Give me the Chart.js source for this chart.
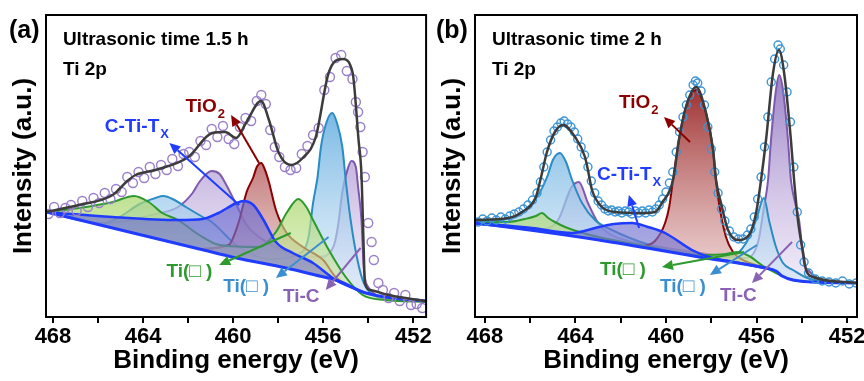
<!DOCTYPE html>
<html lang="en">
<head>
<meta charset="UTF-8">
<title>Ti 2p XPS</title>
<script src="https://cdn.jsdelivr.net/npm/chart.js@4.4.1/dist/chart.umd.min.js"></script>
<style>
  body { margin: 0; background: #fff; }
  canvas { position: absolute; top: 0; }
</style>
</head>
<body>
<canvas id="chartA" width="432" height="381" style="left:0"></canvas>
<canvas id="chartB" width="432" height="381" style="left:432px"></canvas>
<script>
  // x = binding energy (eV), y = intensity (a.u.)
  const xTicks = [452, 454, 456, 458, 460, 462, 464, 466, 468];

  // ---- (a) ultrasonic time 1.5 h
  const aFit = [[468.3,105],[466.85,112],[465.35,122],[464.7,136],[464.33,142],[463.45,147],[461.99,160],[460.93,184],[460.35,185],[459.87,179],[459.43,194],[458.76,216],[458.41,197],[457.97,164],[457.44,152],[456.91,159],[456.33,180],[455.76,244],[455.14,258],[454.7,245],[454.43,177],[454.3,142],[454.2,67],[454.15,34],[453.9,27],[453.1,22],[451.45,16]];
  const aPoints = [[468.2,103],[467.95,110],[467.7,104],[467.45,109],[467.2,112],[466.95,106],[466.7,116],[466.45,110],[466.2,119],[465.95,114],[465.7,124],[465.45,118],[465.2,128],[464.95,125],[464.7,140],[464.45,134],[464.2,145],[463.95,139],[463.7,150],[463.45,143],[463.2,152],[462.95,147],[462.7,158],[462.45,151],[462.2,163],[461.95,165],[461.7,160],[461.45,176],[461.2,172],[460.95,188],[460.7,180],[460.45,191],[460.2,178],[459.95,173],[459.7,190],[459.45,199],[459.2,196],[458.95,216],[458.75,222],[458.55,213],[458.35,187],[458.15,170],[457.95,160],[457.7,150],[457.45,147],[457.2,149],[456.95,163],[456.7,171],[456.45,182],[456.2,189],[455.95,227],[455.7,240],[455.45,259],[455.2,262],[454.95,246],[454.7,238],[454.55,215],[454.45,205],[454.35,190],[454.25,165],[454.15,140],[454.0,94],[453.85,75],[453.75,57],[453.55,34],[453.35,27],[453.1,19],[452.85,24],[452.6,16],[452.35,22],[452.1,12],[451.85,13],[451.6,9]];
  const aBg = [[468.3,105],[465.9,92],[463.7,80],[461.5,68],[459.85,59],[457.65,49],[456.35,42],[455.45,37],[454.9,32],[454.25,25],[453.25,20],[451.45,16]];
  const aCTiTx = [[468.3,105],[465.35,100],[462.45,97],[461.35,98],[460.65,104],[459.85,114],[459.55,116],[459.1,112],[458.65,97],[458.1,75],[457.35,64],[456.45,54],[455.45,37],[454.25,25]];
  const aTi2 = [[468.3,105],[466.85,109],[465.35,115],[464.4,121],[463.75,115],[463.15,104],[462.45,97],[461.5,82],[460.6,72],[458.85,70],[458.1,85],[457.6,105],[457.1,118],[456.75,110],[456.45,97],[455.75,67],[455.0,40],[454.25,22],[453.25,17],[451.45,15]];
  const aTiO2 = [[461.5,68],[460.2,72],[459.75,95],[459.4,125],[459.1,140],[458.95,150],[458.75,154],[458.6,148],[458.4,134],[458.1,107],[457.65,85],[456.9,70],[456.0,57],[455.45,40],[454.9,32],[454.25,25]];
  const aTi3 = [[468.3,105],[467.0,99],[465.9,93],[465.05,100],[464.15,113],[463.45,119],[463.1,121],[462.6,117],[462.1,110],[461.35,100],[460.95,95],[459.75,70],[458.4,58],[457.1,63],[456.65,80],[456.45,114],[456.25,140],[456.1,170],[455.85,195],[455.6,204],[455.4,195],[455.15,170],[455.0,137],[454.8,100],[454.55,65],[454.25,37],[453.9,24],[453.1,18],[451.45,16]];
  const aTiC = [[468.3,105],[465.9,94],[463.25,104],[462.45,110],[461.8,124],[461.5,135],[460.95,146],[460.6,143],[460.35,134],[459.85,112],[459.4,92],[458.85,80],[457.95,68],[457.1,62],[456.2,60],[455.55,70],[455.35,90],[455.15,125],[454.95,145],[454.75,156],[454.55,150],[454.45,130],[454.3,97],[454.2,50],[454.0,30],[453.1,19],[451.45,16]];

  // ---- (b) ultrasonic time 2 h
  const bFit = [[468.44,97],[466.98,99],[466.36,105],[465.75,120],[465.52,140],[465.26,165],[464.91,185],[464.55,192],[464.02,180],[463.58,160],[463.45,147],[463.27,127],[462.83,110],[462.25,105],[461.06,104],[460.49,105],[460.18,114],[459.69,137],[459.43,177],[459.12,210],[458.67,230],[458.23,204],[457.92,167],[457.79,137],[457.57,114],[457.26,87],[456.82,77],[456.33,82],[456.02,104],[455.8,137],[455.58,177],[455.27,244],[455.01,267],[454.78,244],[454.48,177],[454.34,137],[454.17,97],[453.94,64],[453.81,47],[453.5,40],[451.56,34]];
  const bPoints = [[468.3,95],[468.1,98],[467.9,96],[467.7,99],[467.5,97],[467.3,100],[467.1,98],[466.9,101],[466.7,103],[466.5,105],[466.3,108],[466.1,112],[465.9,117],[465.7,124],[465.55,135],[465.4,150],[465.25,165],[465.1,177],[464.95,186],[464.8,190],[464.65,194],[464.5,196],[464.35,193],[464.2,190],[464.05,185],[463.9,178],[463.75,170],[463.6,162],[463.45,150],[463.3,136],[463.15,124],[463.0,116],[462.85,112],[462.7,108],[462.55,106],[462.4,107],[462.25,105],[462.1,106],[461.95,104],[461.8,106],[461.65,105],[461.5,103],[461.35,106],[461.2,104],[461.05,106],[460.9,104],[460.75,107],[460.6,105],[460.45,108],[460.3,112],[460.15,118],[460.0,125],[459.85,134],[459.7,145],[459.55,165],[459.4,185],[459.25,200],[459.1,212],[458.95,222],[458.8,232],[458.7,236],[458.6,234],[458.45,226],[458.3,212],[458.15,190],[458.0,168],[457.85,145],[457.7,124],[457.55,108],[457.4,96],[457.2,86],[457.0,80],[456.8,78],[456.6,78],[456.4,82],[456.25,88],[456.1,100],[455.95,118],[455.8,140],[455.65,170],[455.5,200],[455.35,235],[455.2,258],[455.05,272],[454.95,268],[454.8,252],[454.65,225],[454.5,195],[454.35,150],[454.2,105],[454.05,72],[453.9,55],[453.7,44],[453.4,38],[453.1,36],[452.8,35],[452.5,34],[452.2,36],[451.9,33],[451.6,34]];
  const bBg = [[468.44,94],[465.7,86],[462.96,77],[458.54,60],[455.62,49],[455.14,46],[454.87,41],[454.39,37],[453.6,35],[451.56,34]];
  const bCTiTx = [[468.44,94],[465.92,89],[464.15,84],[462.96,90],[462.3,93],[461.5,94],[460.8,90],[460.04,84],[458.85,67],[458.1,60],[457.0,55],[455.62,49]];
  const bTi2 = [[468.44,94],[467.38,95],[466.98,95],[466.23,98],[465.75,101],[465.48,104],[465.2,99],[464.91,95],[464.46,90],[463.36,82],[461.15,72],[458.5,62],[457.35,63],[456.82,65],[456.33,61],[455.71,51],[455.14,44],[454.39,37],[453.19,35],[451.65,34]];
  const bTiO2 = [[461.15,70],[460.49,76],[460.04,94],[459.86,110],[459.69,137],[459.43,177],[459.12,210],[458.67,227],[458.23,204],[457.92,167],[457.79,137],[457.66,114],[457.35,80],[457.04,65],[456.51,56],[455.4,48]];
  const bTi3 = [[468.44,95],[466.9,99],[466.23,107],[465.57,125],[465.22,142],[465.0,157],[464.69,164],[464.42,155],[464.15,137],[463.71,114],[463.14,97],[462.48,88],[460.71,72],[458.5,63],[457.17,60],[456.46,74],[456.02,97],[455.67,119],[455.45,97],[455.14,70],[454.83,54],[454.39,47],[453.64,38],[451.65,34]];
  const bTiC = [[468.44,93],[465.57,88],[464.77,97],[464.33,122],[464.2,129],[463.85,135],[463.45,114],[463.0,94],[462.56,84],[461.81,77],[460.27,70],[458.5,64],[456.51,59],[455.93,75],[455.67,110],[455.49,137],[455.36,177],[455.14,227],[455.0,242],[454.83,227],[454.61,177],[454.48,137],[454.3,115],[454.12,97],[453.9,54],[453.72,47],[453.19,38],[451.65,34]];

  const FONT = "'Liberation Sans', Arial, sans-serif";
  const RED = '#8b0000', BLUE = '#1f3cff', GREEN = '#2e9a2e', LTBLUE = '#3b8fd0', PURPLE = '#8a62b4';

  function xy(list) {
    return list.map(p => ({ x: p[0], y: p[1] }));
  }

  // vertical gradient used for the peak fills
  function grad(top, bottom) {
    return function (c) {
      const chart = c.chart, ys = chart.scales && chart.scales.y;
      if (!chart.chartArea || !ys) return top;
      const g = chart.ctx.createLinearGradient(0, ys.getPixelForValue(230), 0, ys.getPixelForValue(40));
      g.addColorStop(0, top);
      g.addColorStop(1, bottom);
      return g;
    };
  }

  function comp(data, line, top, bottom, width) {
    return {
      data: xy(data), borderColor: line, borderWidth: width || 2,
      backgroundColor: grad(top, bottom), fill: 2,
      pointRadius: 0, cubicInterpolationMode: 'monotone'
    };
  }

  function arrow(ctx, x0, y0, x1, y1, color) {
    const ang = Math.atan2(y1 - y0, x1 - x0), L = 11, W = 5;
    const bx = x1 - L * Math.cos(ang), by = y1 - L * Math.sin(ang);
    ctx.strokeStyle = color; ctx.fillStyle = color; ctx.lineWidth = 2;
    ctx.beginPath(); ctx.moveTo(x0, y0); ctx.lineTo(bx, by); ctx.stroke();
    ctx.beginPath(); ctx.moveTo(x1, y1);
    ctx.lineTo(bx + W * Math.sin(ang), by - W * Math.cos(ang));
    ctx.lineTo(bx - W * Math.sin(ang), by + W * Math.cos(ang));
    ctx.closePath(); ctx.fill();
  }

  // frame, panel letter, labels and arrows
  function notes(cfg) {
    return {
      id: 'notes',
      afterDatasetsDraw(chart) {
        const ctx = chart.ctx, sx = chart.scales.x, sy = chart.scales.y;
        ctx.save();
        cfg.arrows.forEach(a => {
          arrow(ctx, sx.getPixelForValue(a.from[0]), sy.getPixelForValue(a.from[1]),
            sx.getPixelForValue(a.to[0]), sy.getPixelForValue(a.to[1]), a.color);
        });
        ctx.textBaseline = 'middle';
        cfg.labels.forEach(l => {
          const x = sx.getPixelForValue(l.e), y = sy.getPixelForValue(l.y);
          ctx.font = 'bold ' + (l.size || 19) + 'px ' + FONT;
          ctx.fillStyle = l.color;
          ctx.fillText(l.text, x, y);
          if (l.sub) {
            const w = ctx.measureText(l.text).width;
            ctx.font = 'bold 13px ' + FONT;
            ctx.fillText(l.sub, x + w + 1, y + 7);
          }
        });
        ctx.restore();
      },
      afterDraw(chart) {
        const ctx = chart.ctx, a = chart.chartArea;
        ctx.save();
        ctx.strokeStyle = '#000'; ctx.lineWidth = 2;
        ctx.strokeRect(a.left, a.top, a.right - a.left, a.bottom - a.top);
        ctx.font = 'bold 25px ' + FONT; ctx.fillStyle = '#000'; ctx.textBaseline = 'middle';
        ctx.fillText(cfg.panel, cfg.panelX, 31);
        ctx.restore();
      }
    };
  }

  function makeChart(id, d, cfg) {
    return new Chart(document.getElementById(id), {
      type: 'line',
      data: {
        datasets: [
          { data: xy(d.fit), borderColor: '#3c3c3c', borderWidth: 2.5, pointRadius: 0, fill: false, cubicInterpolationMode: 'monotone' },
          { data: xy(d.points), showLine: false, pointRadius: cfg.r, pointBorderWidth: 1.4, pointBorderColor: cfg.pointColor, pointBackgroundColor: 'rgba(255,255,255,0)' },
          { data: xy(d.bg), borderColor: BLUE, borderWidth: 3, pointRadius: 0, fill: false, cubicInterpolationMode: 'monotone' },
          comp(d.ctitx, BLUE, 'rgba(80,80,222,0.82)', 'rgba(125,125,205,0.6)', 2.5),
          comp(d.ti2, GREEN, 'rgba(120,190,40,0.9)', 'rgba(205,232,160,0.6)'),
          comp(d.tio2, RED, 'rgba(150,30,30,0.92)', 'rgba(225,180,180,0.6)'),
          comp(d.ti3, '#2b8cc4', 'rgba(85,165,220,0.9)', 'rgba(205,228,246,0.6)'),
          comp(d.tic, '#7d5aae', 'rgba(150,122,195,0.88)', 'rgba(228,218,242,0.6)')
        ]
      },
      options: {
        responsive: false,
        animation: false,
        layout: { padding: { top: 15, right: cfg.padRight, left: 0, bottom: 0 } },
        plugins: { legend: { display: false }, tooltip: { enabled: false } },
        scales: {
          x: {
            type: 'linear', reverse: true, min: cfg.min, max: cfg.max,
            afterBuildTicks: s => { s.ticks = xTicks.map(v => ({ value: v })); },
            afterFit: s => { s.height = 64; },
            grid: { drawOnChartArea: false, color: '#000', lineWidth: 2, tickLength: 6 },
            border: { display: false },
            ticks: {
              color: '#000', padding: 1, autoSkip: false, maxRotation: 0,
              font: { family: FONT, weight: 'bold', size: 22 },
              callback: v => (v % 4 === 0 ? v : '')
            },
            title: { display: true, text: 'Binding energy (eV)', color: '#000', padding: { top: 0, bottom: 5 }, font: { family: FONT, weight: 'bold', size: 26 } }
          },
          y: {
            min: 0, max: 302,
            afterFit: s => { s.width = cfg.yWidth; },
            grid: { display: false },
            border: { display: false },
            ticks: { display: false },
            title: { display: true, text: 'Intensity (a.u.)', color: '#000', padding: { top: cfg.yTitlePad, bottom: 0 }, font: { family: FONT, weight: 'bold', size: 26 } }
          }
        }
      },
      plugins: [notes(cfg)]
    });
  }

  makeChart('chartA',
    { fit: aFit, points: aPoints, bg: aBg, ctitx: aCTiTx, ti2: aTi2, tio2: aTiO2, ti3: aTi3, tic: aTiC },
    {
      min: 451.43, max: 468.31, padRight: 4, yWidth: 46, yTitlePad: 8, r: 4.5, pointColor: '#9a7fc8',
      panel: '(a)', panelX: 9,
      labels: [
        { text: 'Ultrasonic time 1.5 h', e: 467.56, y: 277, color: '#000' },
        { text: 'Ti 2p', e: 467.56, y: 247, color: '#000' },
        { text: 'TiO', sub: '2', e: 462.12, y: 210, color: RED },
        { text: 'C-Ti-T', sub: 'X', e: 465.7, y: 190, color: BLUE },
        { text: 'Ti(\u25A1 )', e: 462.96, y: 45, color: GREEN },
        { text: 'Ti(\u25A1 )', e: 460.44, y: 30, color: LTBLUE },
        { text: 'Ti-C', e: 457.79, y: 20, color: PURPLE }
      ],
      arrows: [
        { from: [458.85, 154], to: [460.09, 202], color: RED },
        { from: [459.73, 112], to: [462.83, 174], color: BLUE },
        { from: [457.44, 84], to: [460.62, 52], color: GREEN },
        { from: [455.76, 80], to: [458.1, 39], color: LTBLUE },
        { from: [454.34, 69], to: [455.89, 27], color: PURPLE }
      ]
    });

  makeChart('chartB',
    { fit: bFit, points: bPoints, bg: bBg, ctitx: bCTiTx, ti2: bTi2, tio2: bTiO2, ti3: bTi3, tic: bTiC },
    {
      min: 451.56, max: 468.44, padRight: 7, yWidth: 43, yTitlePad: 5, r: 4, pointColor: '#3d95d6',
      panel: '(b)', panelX: 4,
      labels: [
        { text: 'Ultrasonic time 2 h', e: 467.69, y: 277, color: '#000' },
        { text: 'Ti 2p', e: 467.69, y: 247, color: '#000' },
        { text: 'TiO', sub: '2', e: 462.08, y: 214, color: RED },
        { text: 'C-Ti-T', sub: 'X', e: 463.05, y: 142, color: BLUE },
        { text: 'Ti(\u25A1 )', e: 462.92, y: 47, color: GREEN },
        { text: 'Ti(\u25A1 )', e: 460.27, y: 30, color: LTBLUE },
        { text: 'Ti-C', e: 457.61, y: 21, color: PURPLE }
      ],
      arrows: [
        { from: [458.94, 175], to: [460.09, 200], color: RED },
        { from: [461.19, 89], to: [461.64, 122], color: BLUE },
        { from: [456.55, 65], to: [460.18, 50], color: GREEN },
        { from: [455.98, 72], to: [458.06, 42], color: LTBLUE },
        { from: [454.43, 75], to: [456.2, 34], color: PURPLE }
      ]
    });
</script>
</body>
</html>
